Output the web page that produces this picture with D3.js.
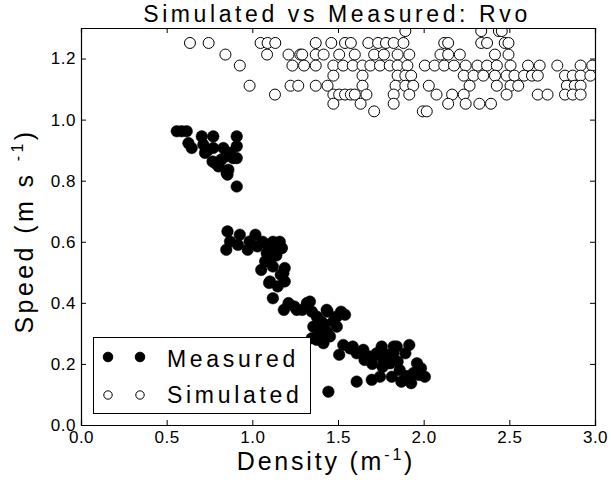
<!DOCTYPE html>
<html><head><meta charset="utf-8">
<script src="https://cdn.jsdelivr.net/npm/d3@7"></script>
<style>body{margin:0;background:#fff}svg text{font-family:Arial,"Liberation Sans",sans-serif;fill:#000}</style>
</head><body><svg id="c" width="611" height="480"></svg>
<script>
const title = "Simulated vs Measured: Rvo";
const xTicks = [0, 0.5, 1.0, 1.5, 2.0, 2.5, 3.0];
const yTicks = [0, 0.2, 0.4, 0.6, 0.8, 1.0, 1.2];
const seriesNames = ["Measured", "Simulated"];
// Measured: [density, speed]
const measured = [
[0.559,0.962],[0.588,0.962],[0.617,0.962],[0.627,0.923],[0.646,0.907],[0.705,0.945],[0.714,0.918],[0.724,0.891],
[0.772,0.945],[0.772,0.907],[0.782,0.858],[0.802,0.852],[0.831,0.907],[0.850,0.880],[0.850,0.825],[0.860,0.836],
[0.870,0.891],[0.889,0.874],[0.909,0.945],[0.909,0.913],[0.909,0.874],[0.909,0.781],[0.768,0.863],[0.802,0.847],
[0.855,0.820],[0.740,0.900],[0.820,0.870],
[0.855,0.634],[0.848,0.574],[0.870,0.601],[0.927,0.623],[0.916,0.590],[0.973,0.574],[0.984,0.601],[1.018,0.623],
[1.030,0.585],[1.060,0.600],[1.090,0.590],[1.110,0.580],[1.130,0.570],[1.150,0.590],[1.140,0.555],[1.110,0.550],
[1.160,0.600],[1.170,0.580],[1.120,0.600],[1.075,0.536],[1.052,0.508],[1.120,0.519],[1.189,0.514],[1.166,0.492],
[1.098,0.465],[1.148,0.454],[1.189,0.470],[1.120,0.415],[1.184,0.377],[1.211,0.399],[1.245,0.388],[1.291,0.377],
[1.336,0.404],[1.348,0.371],[1.439,0.371],[1.518,0.371],[1.541,0.361],[1.103,0.585],[1.142,0.596],[1.172,0.579],
[1.084,0.563],[1.103,0.541],[1.181,0.497],[1.103,0.470],[1.259,0.377],[1.318,0.399],[1.376,0.355],[1.434,0.377],
[1.493,0.355],[1.400,0.340],[1.420,0.330],
[1.356,0.322],[1.385,0.311],[1.405,0.295],[1.434,0.306],[1.453,0.290],[1.415,0.268],[1.376,0.279],[1.347,0.284],
[1.493,0.322],[1.473,0.339],[1.531,0.262],[1.570,0.251],[1.609,0.235],[1.648,0.246],[1.687,0.224],[1.726,0.235],
[1.755,0.257],[1.785,0.230],[1.823,0.235],[1.843,0.257],[1.765,0.213],[1.804,0.202],[1.609,0.142],[1.697,0.148],
[1.745,0.158],[1.814,0.158],[1.444,0.109],[1.507,0.230],[1.586,0.257],[1.655,0.213],[1.723,0.230],[1.780,0.213],
[1.825,0.257],[1.848,0.208],[1.870,0.142],[1.916,0.262],[1.927,0.137],[1.961,0.202],[1.973,0.164],[2.007,0.158],
[1.893,0.235],[1.984,0.186],[1.940,0.170],[1.900,0.160],[1.860,0.180],[1.760,0.190],[1.700,0.200]
];
// Simulated: [density, speed]
const simulated = [
[1.893,1.29],[2.336,1.29],[2.439,1.29],[2.456,1.29],
[0.636,1.251],[0.745,1.251],[1.048,1.251],[1.089,1.251],[1.134,1.251],[1.370,1.251],[1.461,1.251],[1.541,1.251],
[1.575,1.251],[1.677,1.251],[1.734,1.251],[1.780,1.251],[1.825,1.251],[1.882,1.251],[2.120,1.251],[2.143,1.251],
[2.336,1.251],[2.370,1.251],[2.473,1.251],[2.495,1.251],
[0.843,1.213],[1.086,1.213],[1.211,1.213],[1.280,1.213],[1.291,1.213],[1.370,1.213],[1.416,1.213],[1.507,1.213],
[1.598,1.213],[1.711,1.213],[1.768,1.213],[1.848,1.213],[1.916,1.213],[2.098,1.213],[2.143,1.213],[2.211,1.213],
[2.416,1.213],[2.495,1.213],
[0.927,1.177],[1.234,1.177],[1.302,1.177],[1.370,1.177],[1.473,1.177],[1.530,1.177],[1.586,1.177],[1.643,1.177],
[1.689,1.177],[1.745,1.177],[1.802,1.177],[1.848,1.177],[1.905,1.177],[2.007,1.177],[2.064,1.177],[2.120,1.177],
[2.177,1.177],[2.245,1.177],[2.314,1.177],[2.370,1.177],[2.427,1.177],[2.507,1.177],[2.609,1.177],[2.677,1.177],
[2.780,1.177],[2.916,1.177],[2.984,1.177],
[1.473,1.144],[1.643,1.144],[1.848,1.144],[1.893,1.144],[1.927,1.144],[2.234,1.144],[2.291,1.144],[2.348,1.144],
[2.416,1.144],[2.484,1.144],[2.530,1.144],[2.586,1.144],[2.632,1.144],[2.666,1.144],[2.825,1.144],[2.870,1.144],
[2.916,1.144],[2.973,1.144],
[0.984,1.111],[1.223,1.111],[1.268,1.111],[1.370,1.111],[1.439,1.111],[1.643,1.111],[1.836,1.111],[1.893,1.111],
[1.939,1.111],[2.030,1.111],[2.268,1.111],[2.427,1.111],[2.507,1.111],[2.552,1.111],[2.836,1.111],[2.882,1.111],
[2.916,1.111],
[1.132,1.082],[1.473,1.082],[1.507,1.082],[1.541,1.082],[1.575,1.082],[1.598,1.082],[1.666,1.082],[1.825,1.082],
[1.916,1.082],[2.075,1.082],[2.166,1.082],[2.234,1.082],[2.484,1.082],[2.666,1.082],[2.723,1.082],[2.825,1.082],
[2.870,1.082],[2.916,1.082],
[1.473,1.052],[1.632,1.052],[1.825,1.052],[2.143,1.052],[2.245,1.052],[2.325,1.052],[2.393,1.052],
[1.711,1.027],[1.995,1.027],[2.018,1.027]
];

const svg = d3.select("#c");
const L = 81, R = 595, T = 28, B = 425;
const x = d3.scaleLinear().domain([0, 3]).range([L, R]);
const y = d3.scaleLinear().domain([0, 1.3]).range([B, T]);

svg.append("clipPath").attr("id", "clip").append("rect")
  .attr("x", L).attr("y", T).attr("width", R - L).attr("height", B - T);
const plot = svg.append("g").attr("clip-path", "url(#clip)");

plot.selectAll("circle.sim").data(simulated).join("circle").attr("class", "sim")
  .attr("cx", d => x(d[0])).attr("cy", d => y(d[1])).attr("r", 5.5)
  .attr("fill", "#fff").attr("stroke", "#000").attr("stroke-width", 1);
plot.selectAll("circle.meas").data(measured).join("circle").attr("class", "meas")
  .attr("cx", d => x(d[0])).attr("cy", d => y(d[1])).attr("r", 5.8)
  .attr("fill", "#000").attr("stroke", "#000").attr("stroke-width", 0.5);

const tk = 5;
const ax = svg.append("g");
ax.append("g").attr("transform", `translate(0,${B})`)
  .call(d3.axisBottom(x).tickValues(xTicks).tickSize(-tk).tickPadding(6).tickFormat(d3.format(".1f")));
ax.append("g").attr("transform", `translate(0,${T})`)
  .call(d3.axisTop(x).tickValues(xTicks).tickSize(-tk).tickFormat(""));
ax.append("g").attr("transform", `translate(${L},0)`)
  .call(d3.axisLeft(y).tickValues(yTicks).tickSize(-tk).tickPadding(5).tickFormat(d3.format(".1f")));
ax.append("g").attr("transform", `translate(${R},0)`)
  .call(d3.axisRight(y).tickValues(yTicks).tickSize(-tk).tickFormat(""));
ax.selectAll(".domain").attr("stroke", "#000").attr("stroke-width", 1.2);
ax.selectAll(".tick line").attr("stroke", "#000");
ax.selectAll(".tick text").attr("font-size", "17px").attr("font-family", "Arial, 'Liberation Sans', sans-serif")
  .style("letter-spacing", "0.5px").attr("fill", "#000");

svg.append("text").attr("x", 337).attr("y", 22).attr("text-anchor", "middle")
  .attr("font-size", "23px").style("letter-spacing", "3.6px").text(title);

const xl = svg.append("text").attr("x", 326).attr("y", 470).attr("text-anchor", "middle")
  .attr("font-size", "25px").style("letter-spacing", "2.8px");
xl.append("tspan").text("Density (m");
xl.append("tspan").attr("font-size", "16px").attr("dy", -10).text("-1");
xl.append("tspan").attr("dy", 10).text(")");

const yl = svg.append("text").attr("transform", "translate(33,231) rotate(-90)").attr("text-anchor", "middle")
  .attr("font-size", "25px").style("letter-spacing", "3.4px");
yl.append("tspan").text("Speed (m s ");
yl.append("tspan").attr("font-size", "16px").attr("dy", -10).text("-1");
yl.append("tspan").attr("dy", 10).text(")");

// Legend
const lg = svg.append("g");
lg.append("rect").attr("x", 93.5).attr("y", 337.5).attr("width", 217).attr("height", 76)
  .attr("fill", "#fff").attr("stroke", "#000").attr("stroke-width", 1);
const rows = [
  {name: seriesNames[0], fill: "#000", r: 4.8, cy: 357, base: 366.5},
  {name: seriesNames[1], fill: "#fff", r: 4.2, cy: 395, base: 403}
];
rows.forEach(rw => {
  [108, 140].forEach(cx => lg.append("circle").attr("cx", cx).attr("cy", rw.cy).attr("r", rw.r)
    .attr("fill", rw.fill).attr("stroke", "#000").attr("stroke-width", 1));
  lg.append("text").attr("x", 167).attr("y", rw.base).attr("font-size", "23px")
    .style("letter-spacing", "3.7px").text(rw.name);
});
</script></body></html>
